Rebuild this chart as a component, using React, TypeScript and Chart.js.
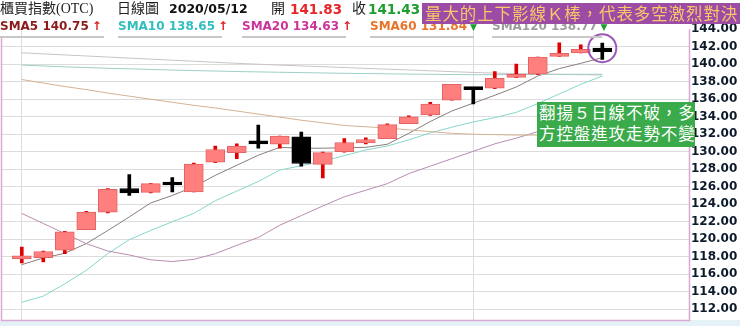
import React, { useEffect, useRef } from "react";
import { Chart, registerables } from "chart.js";

Chart.register(...registerables);

// ---------- data ----------
const dates = [
  "2020/03/31", "2020/04/01", "2020/04/06", "2020/04/07", "2020/04/08", "2020/04/09", "2020/04/10",
  "2020/04/13", "2020/04/14", "2020/04/15", "2020/04/16", "2020/04/17", "2020/04/20", "2020/04/21",
  "2020/04/22", "2020/04/23", "2020/04/24", "2020/04/27", "2020/04/28", "2020/04/29", "2020/04/30",
  "2020/05/04", "2020/05/05", "2020/05/06", "2020/05/07", "2020/05/08", "2020/05/11", "2020/05/12",
];
const opens = [117.75, 117.9, 118.75, 121.1, 123.1, 125.8, 125.35, 126.3, 125.4, 128.8, 129.9, 131.0, 130.85, 131.7, 128.55, 130.0, 131.0, 131.5, 133.2, 134.2, 135.9, 137.2, 137.25, 138.5, 138.85, 140.9, 141.3, 141.83];
const highs = [119.1, 118.65, 120.9, 123.2, 125.8, 127.4, 126.4, 127.05, 128.7, 130.65, 130.9, 133.05, 131.8, 132.25, 129.95, 131.5, 131.6, 133.2, 134.1, 135.65, 137.7, 137.2, 139.15, 140.0, 140.8, 142.45, 142.2, 142.4];
const lows = [117.3, 117.4, 118.35, 121.1, 123.0, 125.0, 125.3, 125.4, 125.4, 128.75, 129.2, 130.4, 130.4, 128.35, 127.0, 129.95, 130.9, 131.5, 133.2, 134.15, 135.9, 135.45, 137.2, 138.45, 138.8, 140.9, 141.3, 140.55];
const closes = [117.85, 118.6, 120.85, 123.1, 125.7, 125.3, 126.35, 126.2, 128.6, 130.25, 130.65, 130.9, 131.8, 128.65, 129.9, 131.05, 131.4, 133.1, 134.0, 135.45, 137.7, 137.1, 138.4, 138.75, 140.8, 141.1, 141.7, 141.43];

const sma5 = [117.1, 117.85, 118.4, 119.5, 121.0, 122.55, 124.15, 125.0, 126.0, 127.3, 128.45, 129.6, 130.5, 130.4, 130.4, 130.45, 130.5, 130.85, 132.1, 133.45, 134.65, 135.55, 136.45, 137.4, 138.65, 139.5, 140.1, 140.75];
const sma10 = [112.8, 113.5, 114.9, 116.45, 118.35, 119.95, 121.0, 122.0, 122.95, 124.4, 125.5, 126.6, 127.9, 128.4, 128.9, 129.55, 130.2, 130.65, 131.35, 132.15, 132.8, 133.4, 133.9, 134.5, 135.5, 136.6, 137.7, 138.65];
const sma20 = [122.95, 121.8, 120.65, 119.5, 118.65, 118.2, 117.65, 117.45, 117.7, 118.35, 119.3, 120.2, 121.6, 122.7, 123.8, 124.85, 125.6, 126.35, 127.5, 128.35, 129.2, 130.05, 130.9, 131.55, 132.3, 133.1, 133.85, 134.63];
const sma60 = [138.25, 137.85, 137.45, 137.1, 136.7, 136.35, 136.0, 135.65, 135.3, 135.0, 134.65, 134.3, 133.95, 133.6, 133.3, 133.0, 132.85, 132.7, 132.5, 132.3, 132.1, 132.0, 131.95, 131.9, 131.9, 131.88, 131.86, 131.84];
const sma120 = [141.3, 141.18, 141.06, 140.94, 140.82, 140.7, 140.58, 140.46, 140.34, 140.22, 140.1, 140.0, 139.9, 139.8, 139.72, 139.62, 139.52, 139.43, 139.34, 139.25, 139.15, 139.06, 138.98, 138.93, 138.88, 138.84, 138.8, 138.77];
const sma240 = [139.9, 139.8, 139.7, 139.62, 139.53, 139.47, 139.4, 139.33, 139.27, 139.22, 139.16, 139.12, 139.08, 139.04, 139.0, 138.96, 138.93, 138.9, 138.87, 138.85, 138.82, 138.8, 138.8, 138.82, 138.83, 138.84, 138.85, 138.85];

const yTickValues = [112, 114, 116, 118, 120, 122, 124, 126, 128, 130, 132, 134, 136, 138, 140, 142, 144];
const monthLineIdx = [0, 21];

const titleText = "櫃買指數(OTC)";
const periodText = "日線圖";
const dateText = "2020/05/12";
const openLabel = "開";
const closeLabel = "收";
const noteTop = "量大的上下影線Ｋ棒，代表多空激烈對決";
const noteSide = ["翻揚５日線不破，多", "方控盤進攻走勢不變"];

const smaNames = ["SMA5", "SMA10", "SMA20", "SMA60", "SMA120"];
const smaSeries = [sma5, sma10, sma20, sma60, sma120];

// ---------- styles ----------
const SMA_COLORS = ["#8B1A1A", "#33BDBD", "#CC3399", "#E8742A", "#9C9C9C"];
const LINE_COLORS = {
  sma5: "#8C7C7C",
  sma10: "#86D6CA",
  sma20: "#B78DB2",
  sma60: "#D4B292",
  sma120: "#CBC2C7",
  sma240: "#9CCFC7",
};
const RED_BODY = "#FF7F7F";
const RED_EDGE = "#E36262";
const RED_WICK = "#E00000";
const BLACK = "#000000";

const serifCJK = '"Liberation Serif", "Noto Sans CJK TC", serif';
const sansBold = '"DejaVu Sans", "Noto Sans CJK TC", sans-serif';

export default function App() {
  const ref = useRef<HTMLCanvasElement>(null);

  useEffect(() => {
    const canvas = ref.current;
    if (!canvas) return;
    const idx = dates.map((_, i) => i);
    const isUp = (i: number) => closes[i] >= opens[i];
    const pts = (arr: number[]) => arr.map((v, i) => ({ x: i, y: v }));
    const line = (label: string, arr: number[], color: string) => ({
      type: "line" as const,
      label,
      data: pts(arr),
      borderColor: color,
      borderWidth: 1,
      pointRadius: 0,
      tension: 0,
      fill: false,
      order: 10,
    });

    const decor = {
      id: "decor",
      beforeDraw(chart: any) {
        const { ctx, chartArea: a } = chart;
        ctx.save();
        ctx.fillStyle = "#E4F1F7";
        ctx.fillRect(0, a.bottom, chart.width, chart.height - a.bottom);
        ctx.restore();
      },
      afterDatasetsDraw(chart: any) {
        const { ctx, chartArea: a, scales } = chart;
        ctx.save();
        ctx.strokeStyle = "#D9A9D4";
        ctx.lineWidth = 1.5;
        ctx.beginPath();
        ctx.moveTo(a.left + 0.5, a.top + 8);
        ctx.lineTo(a.left + 0.5, a.bottom + 0.5);
        ctx.lineTo(a.right + 0.5, a.bottom + 0.5);
        ctx.lineTo(a.right + 0.5, a.top);
        ctx.stroke();
        // highlight circle around the last candle
        const last = dates.length - 1;
        const cx = scales.x.getPixelForValue(last);
        const cy = scales.y.getPixelForValue(opens[last]);
        ctx.strokeStyle = "#9B59B6";
        ctx.lineWidth = 2;
        ctx.beginPath();
        ctx.arc(cx, cy, 14, 0, Math.PI * 2);
        ctx.stroke();
        ctx.restore();
      },
    };

    const chart = new Chart(canvas, {
      type: "bar",
      data: {
        datasets: [
          line("SMA240", sma240, LINE_COLORS.sma240),
          line("SMA120", sma120, LINE_COLORS.sma120),
          line("SMA60", sma60, LINE_COLORS.sma60),
          line("SMA20", sma20, LINE_COLORS.sma20),
          line("SMA10", sma10, LINE_COLORS.sma10),
          line("SMA5", sma5, LINE_COLORS.sma5),
          {
            type: "bar",
            label: "wick",
            data: idx.map((i) => ({ x: i, y: [lows[i], highs[i]] })),
            backgroundColor: idx.map((i) => (isUp(i) ? RED_WICK : BLACK)),
            barThickness: 3,
            grouped: false,
            order: 2,
          } as any,
          {
            type: "bar",
            label: "body",
            data: idx.map((i) => ({ x: i, y: [opens[i], closes[i]] })),
            backgroundColor: idx.map((i) => (isUp(i) ? RED_BODY : BLACK)),
            borderColor: idx.map((i) => (isUp(i) ? RED_EDGE : BLACK)),
            borderWidth: 1,
            borderSkipped: false,
            barThickness: 19,
            minBarLength: 3,
            grouped: false,
            order: 1,
          } as any,
        ],
      },
      options: {
        responsive: false,
        animation: false,
        events: [],
        layout: { padding: { left: 1, right: 0, top: 29.2, bottom: 6 } },
        plugins: { legend: { display: false }, tooltip: { enabled: false } },
        scales: {
          x: {
            type: "linear",
            offset: false,
            min: -0.967,
            max: 31.033,
            ticks: { display: false },
            grid: { drawTicks: false, offset: false, color: "#DCDCDC", lineWidth: 1 },
            border: { display: false },
            afterBuildTicks: (s: any) => {
              s.ticks = monthLineIdx.map((v) => ({ value: v }));
            },
          },
          y: {
            type: "linear",
            position: "right",
            min: 110.77,
            max: 144,
            afterBuildTicks: (s: any) => {
              s.ticks = yTickValues.map((v) => ({ value: v }));
            },
            ticks: {
              callback: (v: any) => Number(v).toFixed(2),
              font: { family: "DejaVu Sans", weight: "bold", size: 12 },
              color: "#0D1A2B",
              padding: 2,
            },
            grid: {
              drawTicks: false,
              lineWidth: 1,
              color: (c: any) => (c.tick && c.tick.value === 144 ? "rgba(0,0,0,0)" : "#DCDCDC"),
            },
            border: { display: false },
            afterFit: (s: any) => {
              s.width = 51;
              s.paddingTop = 0;
              s.paddingBottom = 0;
            },
          },
        },
      } as any,
      plugins: [decor as any],
    });
    return () => chart.destroy();
  }, []);

  const last = dates.length - 1;
  const smaLefts = [0, 118, 242, 370, 492];

  return (
    <div style={{ position: "absolute", left: 0, top: 0, width: 740, height: 326, background: "#fff", overflow: "hidden" }}>
      <canvas ref={ref} width={740} height={326} style={{ position: "absolute", left: 0, top: 0, width: 740, height: 326 }} />

      {/* header row 1 */}
      <div style={{ position: "absolute", left: 0, top: 1, lineHeight: "16px", fontSize: 14, fontFamily: serifCJK, color: "#222", whiteSpace: "nowrap" }}>{titleText}</div>
      <div style={{ position: "absolute", left: 117, top: 1, lineHeight: "16px", fontSize: 14, fontFamily: serifCJK, color: "#222", whiteSpace: "nowrap" }}>{periodText}</div>
      <div style={{ position: "absolute", left: 169, top: 1, lineHeight: "16px", fontSize: 12.5, fontWeight: "bold", fontFamily: sansBold, color: "#111", whiteSpace: "nowrap" }}>{dateText}</div>
      <div style={{ position: "absolute", left: 271, top: 1, lineHeight: "16px", fontSize: 14, fontFamily: serifCJK, color: "#222" }}>{openLabel}</div>
      <div style={{ position: "absolute", left: 290, top: 1, lineHeight: "16px", fontSize: 13.5, fontWeight: "bold", fontFamily: sansBold, color: "#E8262A" }}>{opens[last].toFixed(2)}</div>
      <div style={{ position: "absolute", left: 352, top: 1, lineHeight: "16px", fontSize: 14, fontFamily: serifCJK, color: "#222" }}>{closeLabel}</div>
      <div style={{ position: "absolute", left: 368, top: 1, lineHeight: "16px", fontSize: 13.5, fontWeight: "bold", fontFamily: sansBold, color: "#1E9E2E" }}>{closes[last].toFixed(2)}</div>

      {/* header row 2: moving average labels */}
      {smaNames.map((name, k) => {
        const s = smaSeries[k];
        const v = s[s.length - 1];
        const up = v >= s[s.length - 2];
        return (
          <React.Fragment key={name}>
            <div style={{ position: "absolute", left: smaLefts[k], top: 18, lineHeight: "16px", fontSize: 12, fontWeight: "bold", fontFamily: sansBold, color: SMA_COLORS[k], whiteSpace: "nowrap" }}>
              {name} {v.toFixed(2)}
              <span style={{ color: up ? "#E02020" : "#1E9E2E", marginLeft: 3, fontSize: up ? 12 : 9 }}>{up ? "↑" : "▼"}</span>
            </div>
            <div style={{ position: "absolute", left: smaLefts[k], top: 36, width: k === 4 ? 110 : 104, height: 2, background: "#C8C8C8" }} />
          </React.Fragment>
        );
      })}

      {/* purple annotation */}
      <div style={{ position: "absolute", left: 422, top: 3, width: 318, height: 20.5, background: "#9B4DA6", color: "#F7C76A", fontSize: 16.5, lineHeight: "20.5px", letterSpacing: "0.9px", fontFamily: '"Noto Sans CJK TC", sans-serif', paddingLeft: 3, boxSizing: "border-box", whiteSpace: "nowrap", overflow: "hidden" }}>
        {noteTop}
      </div>

      {/* green annotation */}
      <div style={{ position: "absolute", left: 537, top: 102, width: 158, height: 45, background: "#3AAA4A", color: "#FFFFFF", fontSize: 16.5, lineHeight: "21px", letterSpacing: "0.9px", fontFamily: '"Noto Sans CJK TC", sans-serif', paddingLeft: 2, boxSizing: "border-box", whiteSpace: "nowrap", overflow: "hidden" }}>
        {noteSide.map((t) => (
          <div key={t}>{t}</div>
        ))}
      </div>
    </div>
  );
}
